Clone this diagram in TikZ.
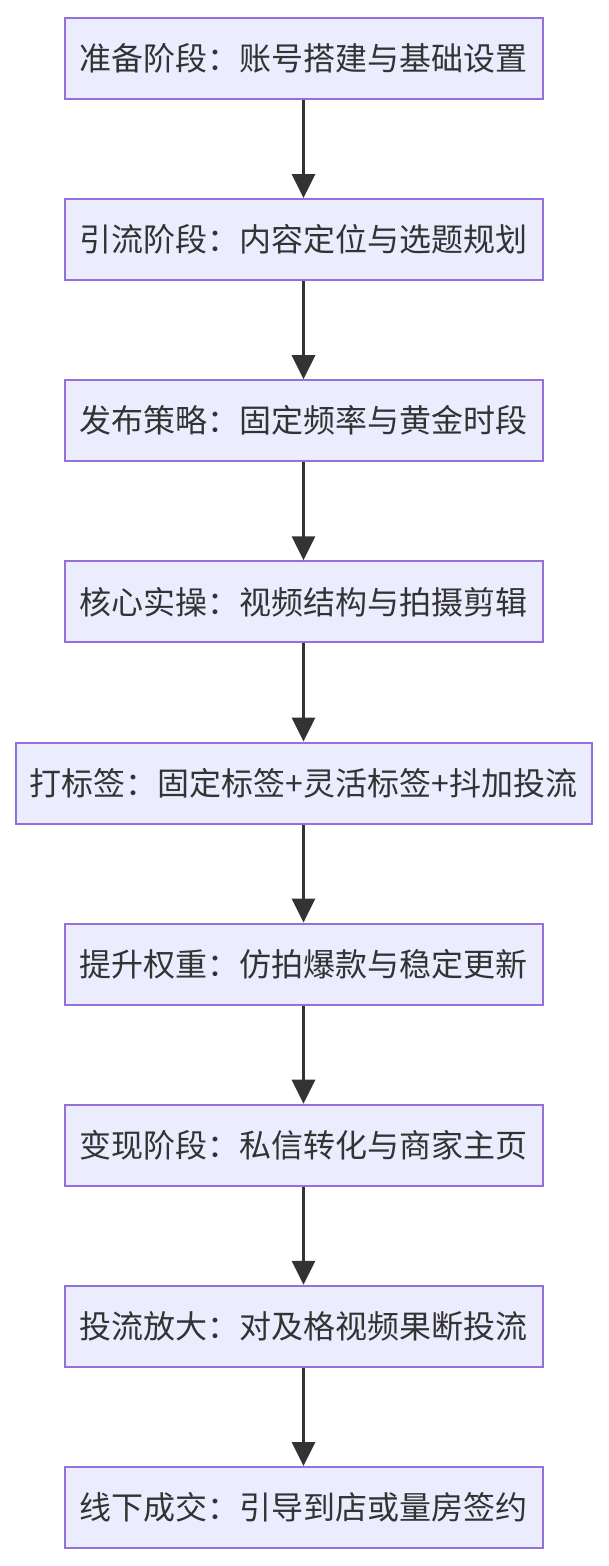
\documentclass[tikz,border=0pt]{standalone}
\usepackage{fontspec}
\newfontfamily\cjk{Noto Sans CJK SC}
\usetikzlibrary{arrows.meta}
\definecolor{boxfill}{HTML}{ECECFF}
\definecolor{boxline}{HTML}{9370DB}
\definecolor{ink}{HTML}{333333}
\begin{document}
\begin{tikzpicture}[x=1pt,y=-1pt,
  stage/.style={draw=boxline, fill=boxfill, line width=2pt, minimum width=478pt, minimum height=81pt, inner sep=0pt, text=ink, font=\cjk\fontsize{32}{38}\selectfont},
  wide/.style={minimum width=576pt},
  flow/.style={draw=ink, line width=3pt, -{Triangle[width=23pt,length=24pt]}}]
\useasboundingbox (0,0) rectangle (608,1566);
\node[stage] (n1) at (303.5,58.5) {准备阶段：账号搭建与基础设置};
\node[stage] (n2) at (303.5,239.6) {引流阶段：内容定位与选题规划};
\node[stage] (n3) at (303.5,420.7) {发布策略：固定频率与黄金时段};
\node[stage] (n4) at (303.5,601.8) {核心实操：视频结构与拍摄剪辑};
\node[stage,wide] (n5) at (303.5,783.0) {打标签：固定标签+灵活标签+抖加投流};
\node[stage] (n6) at (303.5,964.1) {提升权重：仿拍爆款与稳定更新};
\node[stage] (n7) at (303.5,1145.2) {变现阶段：私信转化与商家主页};
\node[stage] (n8) at (303.5,1326.3) {投流放大：对及格视频果断投流};
\node[stage] (n9) at (303.5,1507.5) {线下成交：引导到店或量房签约};
\foreach \a/\b in {n1/n2,n2/n3,n3/n4,n4/n5,n5/n6,n6/n7,n7/n8,n8/n9}
  \draw[flow] (\a.south) -- (\b.north);
\end{tikzpicture}
\end{document}
